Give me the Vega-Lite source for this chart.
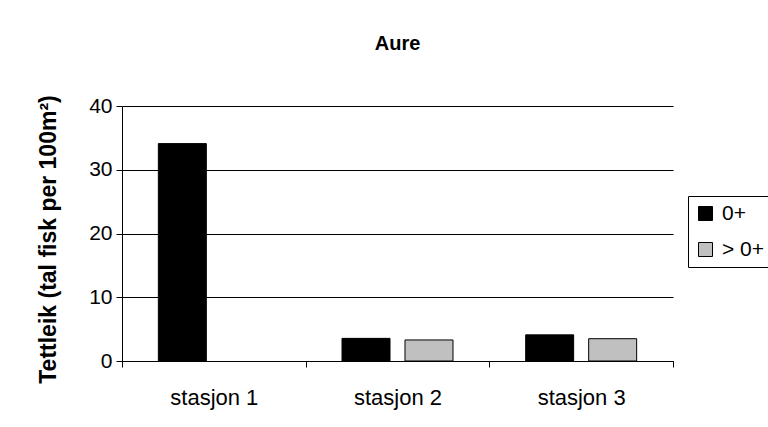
{
  "$schema": "https://vega.github.io/schema/vega-lite/v6.json",
  "autosize": {"type": "none"},
  "padding": {"left": 122, "top": 106, "right": 95, "bottom": 66},
  "width": 551,
  "height": 255,
  "background": "white",
  "title": {"text": "Aure", "font": "Liberation Sans", "fontSize": 20, "fontWeight": "bold", "color": "#000", "offset": 41, "anchor": "middle"},
  "data": {"values": [
    {"stasjon": "stasjon 1", "alder": "0+", "tettleik": 34.1},
    {"stasjon": "stasjon 2", "alder": "0+", "tettleik": 3.55},
    {"stasjon": "stasjon 2", "alder": "> 0+", "tettleik": 3.3},
    {"stasjon": "stasjon 3", "alder": "0+", "tettleik": 4.1},
    {"stasjon": "stasjon 3", "alder": "> 0+", "tettleik": 3.5}
  ]},
  "mark": {"type": "bar", "stroke": "#000", "strokeWidth": 1},
  "encoding": {
    "x": {"field": "stasjon", "type": "nominal", "sort": null,
      "scale": {"paddingInner": 0, "paddingOuter": 0},
      "axis": {"title": null, "labelAngle": 0, "bandPosition": 0, "tickBand": "extent", "grid": false,
        "domainColor": "#000", "tickColor": "#000", "tickSize": 6, "labelPadding": 20,
        "labelFont": "Liberation Sans", "labelFontSize": 22, "labelColor": "#000"}},
    "xOffset": {"field": "alder", "type": "nominal", "sort": ["0+", "> 0+"],
      "scale": {"domain": ["0+", "> 0+"], "paddingInner": 0.238, "paddingOuter": 0.577}},
    "y": {"field": "tettleik", "type": "quantitative",
      "scale": {"domain": [0, 40]},
      "axis": {"title": "Tettleik (tal fisk per 100m²)", "values": [0, 10, 20, 30, 40],
        "grid": true, "gridColor": "#000", "gridWidth": 1, "domainColor": "#000", "tickColor": "#000", "tickSize": 6,
        "labelFont": "Liberation Sans", "labelFontSize": 21, "labelColor": "#000", "labelPadding": 4,
        "titleFont": "Liberation Sans", "titleFontSize": 23, "titleFontWeight": "bold", "titleColor": "#000", "titlePadding": 28,
        "titleY": 133}},
    "color": {"field": "alder", "type": "nominal", "sort": ["0+", "> 0+"],
      "scale": {"domain": ["0+", "> 0+"], "range": ["#000000", "#C0C0C0"]},
      "legend": {"title": null, "orient": "none", "legendX": 566, "legendY": 90,
        "strokeColor": "#000", "padding": 7, "symbolType": "square", "symbolSize": 196,
        "symbolStrokeColor": "#000", "symbolStrokeWidth": 1, "labelFont": "Liberation Sans", "labelFontSize": 21,
        "labelColor": "#000", "labelOffset": 6, "rowPadding": 14, "fillColor": "white"}}
  },
  "config": {"view": {"stroke": null}, "axis": {"domainWidth": 1, "tickWidth": 1}}
}
